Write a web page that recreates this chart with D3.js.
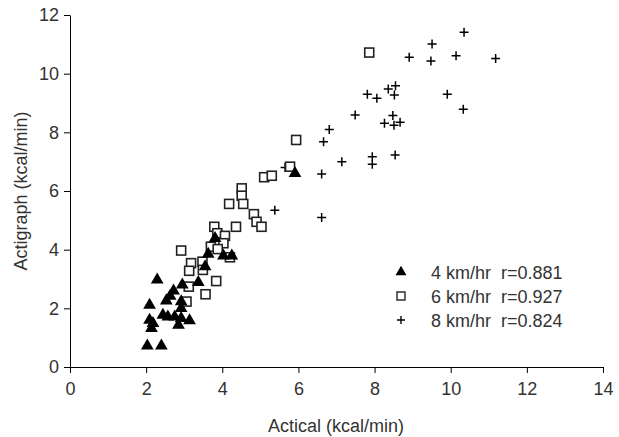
<!DOCTYPE html>
<html lang="en">
<head>
<meta charset="UTF-8">
<script src="https://d3js.org/d3.v7.min.js"></script>
<title>Actical vs Actigraph</title>
<style>
    body { margin: 0; background: #fff; }
    text { font-family: "Liberation Sans", Arial, sans-serif; fill: #333; }
    .lg text { white-space: pre; }
</style>
</head>
<body>
<script>
    // 4 km/hr  (Actical, Actigraph)
    var walk4 = [[2.03,0.72],[2.40,0.72],[2.29,2.97],[2.09,2.11],[2.09,1.60],[2.18,1.49],[2.14,1.32],
        [2.44,1.77],[2.57,1.71],[2.75,1.71],[2.92,1.66],[3.14,1.58],[2.85,1.43],[2.92,2.00],[2.92,2.23],
        [2.53,2.26],[2.63,2.42],[2.72,2.60],[2.95,2.80],[3.37,2.89],[3.55,3.42],[3.63,3.85],[4.03,3.79],
        [4.25,3.79],[3.81,4.39],[5.91,6.60]];
    // 6 km/hr
    var walk6 = [[2.92,3.97],[3.18,3.54],[3.13,3.28],[3.48,3.59],[3.49,3.31],[3.84,2.93],[3.56,2.48],
        [3.12,2.74],[3.06,2.23],[3.79,4.78],[3.87,4.56],[4.07,4.47],[4.03,4.22],[3.70,4.10],[3.88,4.02],
        [4.36,4.78],[4.20,3.74],[4.18,5.56],[4.51,6.09],[4.51,5.84],[4.55,5.56],[4.83,5.21],[4.90,4.95],
        [5.03,4.78],[5.10,6.47],[5.30,6.52],[5.78,6.83],[5.94,7.74],[7.86,10.72]];
    // 8 km/hr
    var walk8 = [[10.35,11.41],[9.51,11.01],[8.91,10.56],[9.48,10.43],[10.14,10.61],[11.18,10.52],
        [7.81,9.30],[8.06,9.16],[8.36,9.48],[8.55,9.59],[8.52,9.27],[9.91,9.30],[10.33,8.79],[7.49,8.59],
        [8.48,8.57],[8.26,8.31],[8.51,8.24],[8.67,8.34],[6.81,8.10],[6.66,7.68],[7.14,7.00],[7.94,7.17],
        [7.94,6.91],[8.54,7.23],[5.65,6.80],[6.61,6.58],[6.61,5.10],[5.38,5.34]];

    var legendLabels = ["4 km/hr  r=0.881", "6 km/hr  r=0.927", "8 km/hr  r=0.824"];
    var xTicks = [0,2,4,6,8,10,12,14];
    var yTicks = [0,2,4,6,8,10,12];

    var width = 619, height = 437;
    var x = d3.scaleLinear().domain([0,14]).range([70,603]);
    var y = d3.scaleLinear().domain([0,12]).range([367,15]);

    var svg = d3.select("body").append("svg").attr("width",width).attr("height",height);

    var xAxis = d3.axisBottom(x).tickValues(xTicks).tickSize(6).tickPadding(9).tickSizeOuter(0);
    var yAxis = d3.axisLeft(y).tickValues(yTicks).tickSize(6).tickPadding(5).tickSizeOuter(0);

    var gx = svg.append("g").attr("transform","translate(0,367)").call(xAxis);
    var gy = svg.append("g").attr("transform","translate(70,0)").call(yAxis);
    [gx, gy].forEach(function(g){
        g.select(".domain").attr("stroke","#000");
        g.selectAll(".tick line").attr("stroke","#000");
        g.selectAll(".tick text").style("font-size","18px").attr("fill","#333");
    });

    svg.append("text").attr("x",336).attr("y",432).attr("text-anchor","middle")
        .style("font-size","18px").text("Actical (kcal/min)");
    svg.append("text").attr("transform","translate(27,191) rotate(-90)").attr("text-anchor","middle")
        .style("font-size","18px").text("Actigraph (kcal/min)");

    var tri = d3.symbol().type(d3.symbolTriangle).size(70);
    var plus = "M-4.5,0H4.5M0,-4.5V4.5";

    function drawTri(g, d){ g.append("path").attr("d",tri).attr("fill","#000"); }
    function drawSq(g, d){ g.append("rect").attr("x",-4.5).attr("y",-4.5).attr("width",9).attr("height",9)
        .attr("fill","#fff").attr("stroke","#222").attr("stroke-width",1.6); }
    function drawPlus(g, d){ g.append("path").attr("d",plus).attr("stroke","#000").attr("stroke-width",1.5).attr("fill","none"); }

    var series = [[walk8, drawPlus], [walk6, drawSq], [walk4, drawTri]];
    series.forEach(function(s){
        svg.append("g").selectAll("g").data(s[0]).enter().append("g")
            .attr("transform", function(d){ return "translate(" + x(d[0]) + "," + y(d[1]) + ")"; })
            .each(function(d){ s[1](d3.select(this), d); });
    });

    // legend
    var lg = svg.append("g").attr("class","lg");
    legendLabels.forEach(function(t, i){
        var g = lg.append("g").attr("transform","translate(401," + (272 + i*24) + ")");
        if (i == 0) g.append("path").attr("d", d3.symbol().type(d3.symbolTriangle).size(52)).attr("fill","#000");
        else if (i == 1) g.append("rect").attr("x",-4).attr("y",-4).attr("width",8).attr("height",8)
            .attr("fill","#fff").attr("stroke","#222").attr("stroke-width",1.4);
        else g.append("path").attr("d","M-4,0H4M0,-4V4").attr("stroke","#000").attr("stroke-width",1.4);
        g.append("text").attr("x",30).attr("y",6.5).style("font-size","18px").text(t);
    });
</script>
</body>
</html>
